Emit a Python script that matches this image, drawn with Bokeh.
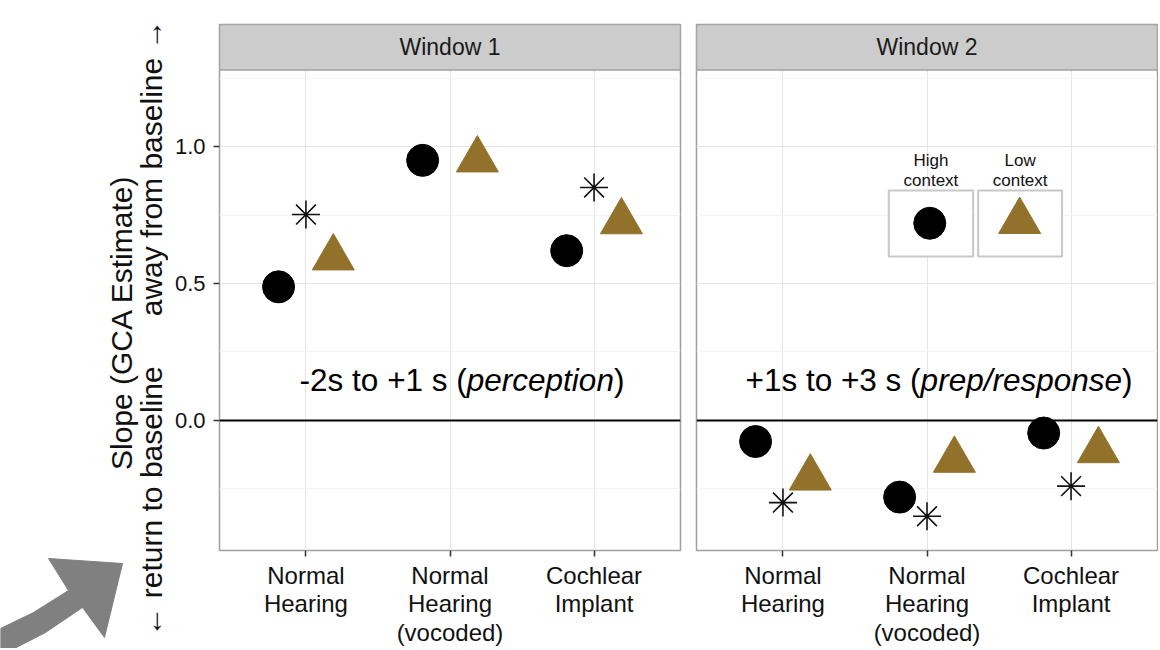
import math
from bokeh.plotting import figure
from bokeh.models import (Range1d, FixedTicker, Span, Label, Grid,
                          ColumnDataSource, PrintfTickFormatter)
from bokeh.transform import dodge
from bokeh.layouts import row
from bokeh.embed import file_html
from bokeh.resources import INLINE

# ---------------- data ----------------
groups = ["Normal\nHearing", "Normal\nHearing\n(vocoded)", "Cochlear\nImplant"]
windows = ["Window 1", "Window 2"]
high_w1 = [0.488, 0.950, 0.620]
low_w1 = [0.594, 0.952, 0.726]
star_w1 = [0.752, float("nan"), 0.851]
high_w2 = [-0.077, -0.280, -0.046]
low_w2 = [-0.210, -0.145, -0.110]
star_w2 = [-0.300, -0.350, -0.240]
y_ticks = [0.0, 0.5, 1.0]
y_minor = [-0.25, 0.25, 0.75, 1.25]
annotations = [("-2s to +1 s (", "perception", ")"),
               ("+1s to +3 s (", "prep/response", ")")]
legend_labels = [("High", "context"), ("Low", "context")]
y_title = "Slope (GCA Estimate)"
y_sub_low = "\u2190 return to baseline"
y_sub_high = "away from baseline \u2192"

# ---------------- layout / style ----------------
FONT = "Liberation Sans"
GOLD = "#92722a"
LEFT_W = 168                      # width of the title/arrow column
FRAME_W = 461
P1_LEFT, P1_RIGHT = 219 - LEFT_W, 2
P2_LEFT, P2_RIGHT = 14, 1
FRAME_TOP = 24
STRIP_PX = 46
PANEL_PX = 486
BOTTOM_PX = 92
HEIGHT = FRAME_TOP + STRIP_PX + PANEL_PX + BOTTOM_PX
Y_LO, Y_HI = -0.475, 1.28
X_LO, X_HI = 0.4, 3.6
SY = PANEL_PX / (Y_HI - Y_LO)          # px per y unit
Y_TOP = Y_HI + STRIP_PX / SY           # top of the strip in data units
DODGE = 0.19

# Arial / Liberation Sans advance widths (per 1000 em)
AW = {" ": 278, "(": 333, ")": 333, "+": 584, "-": 333, "/": 278, "1": 556, "2": 556,
      "3": 556, "a": 556, "c": 500, "e": 556, "i": 222, "n": 556, "o": 556, "p": 556,
      "r": 333, "s": 500, "t": 278}


def text_w(s, px):
    return sum(AW.get(ch, 556) for ch in s) * px / 1000.0


def fx(f):
    return X_LO + f * (X_HI - X_LO)


def fy(f):
    return Y_HI - f * (Y_HI - Y_LO)


y_range = Range1d(Y_LO, Y_TOP)


def make_panel(title, high, low, star, left, right, show_y, annot):
    p = figure(width=left + FRAME_W + right, height=HEIGHT,
               x_range=Range1d(X_LO, X_HI), y_range=y_range,
               y_axis_location="left" if show_y else None,
               toolbar_location=None, output_backend="svg",
               min_border_left=left, min_border_right=right,
               min_border_top=FRAME_TOP, min_border_bottom=BOTTOM_PX)
    p.background_fill_color = "white"
    p.border_fill_color = "white"
    p.outline_line_color = "#a0a0a0"
    p.outline_line_width = 1.5

    xa = p.xaxis[0]
    xa.ticker = FixedTicker(ticks=list(range(1, len(groups) + 1)))
    xa.major_label_overrides = {i + 1: g for i, g in enumerate(groups)}
    xa.major_label_text_font = FONT
    xa.major_label_text_font_size = "24px"
    xa.major_label_text_color = "#111111"
    xa.major_label_text_line_height = 1.06
    xa.major_label_standoff = 5
    xa.major_tick_out = 6
    xa.major_tick_in = 0
    xa.major_tick_line_color = "#333333"
    xa.major_tick_line_width = 1.5
    xa.minor_tick_line_color = None
    xa.axis_line_color = None
    p.xgrid.grid_line_color = "#e5e5e5"
    p.xgrid.grid_line_width = 1

    if show_y:
        ya = p.yaxis[0]
        ya.ticker = FixedTicker(ticks=y_ticks, minor_ticks=y_minor)
        ya.formatter = PrintfTickFormatter(format="%.1f")
        ya.major_label_text_font = FONT
        ya.major_label_text_font_size = "22px"
        ya.major_label_text_color = "#111111"
        ya.major_label_standoff = 8
        ya.major_tick_out = 6
        ya.major_tick_in = 0
        ya.major_tick_line_color = "#333333"
        ya.major_tick_line_width = 1.5
        ya.minor_tick_line_color = None
        ya.axis_line_color = None
        g = p.ygrid[0]
    else:
        g = Grid(dimension=1)
        p.add_layout(g)
    g.ticker = FixedTicker(ticks=y_ticks, minor_ticks=y_minor)
    g.grid_line_color = "#e5e5e5"
    g.grid_line_width = 1
    g.minor_grid_line_color = "#f3f3f3"
    g.minor_grid_line_width = 1

    # facet strip
    p.quad(left=[X_LO], right=[X_HI], bottom=[Y_HI], top=[Y_TOP],
           fill_color="#cccccc", line_color="#a0a0a0", line_width=1.5)
    p.add_layout(Label(x=(X_LO + X_HI) / 2, y=(Y_HI + Y_TOP) / 2, text=title,
                       text_align="center", text_baseline="middle", text_font=FONT,
                       text_font_size="23px", text_color="#1a1a1a"))

    p.add_layout(Span(location=0, dimension="width", line_color="black", line_width=2))

    src = ColumnDataSource(dict(pos=list(range(1, len(groups) + 1)),
                                high=high, low=low, star=star))
    p.scatter(x=dodge("pos", -DODGE), y="high", source=src, marker="circle",
              size=32, fill_color="black", line_color="black")
    p.scatter(x=dodge("pos", DODGE), y="low", source=src, marker="triangle",
              size=42, fill_color=GOLD, line_color=GOLD)
    p.scatter(x="pos", y="star", source=src, marker="asterisk",
              size=28, line_color="#111111", line_width=1.6)

    fs = 31.5
    pre, ital, post = annot
    total = text_w(pre, fs) + text_w(ital, fs) + text_w(post, fs)
    x0 = -total / 2
    common = dict(x=fx(0.526), y=0.148, text_baseline="middle", text_align="left",
                  text_font=FONT, text_font_size=f"{fs}px", text_color="black")
    p.add_layout(Label(text=pre, x_offset=x0, **common))
    p.add_layout(Label(text=ital, x_offset=x0 + text_w(pre, fs),
                       text_font_style="italic", **common))
    p.add_layout(Label(text=post, x_offset=x0 + text_w(pre, fs) + text_w(ital, fs),
                       **common))
    return p


p1 = make_panel(windows[0], high_w1, low_w1, star_w1, P1_LEFT, P1_RIGHT, True, annotations[0])
p2 = make_panel(windows[1], high_w2, low_w2, star_w2, P2_LEFT, P2_RIGHT, False, annotations[1])

# ---------------- legend (drawn inside Window 2) ----------------
box_fx = [(0.417, 0.600), (0.611, 0.793)]
p2.quad(left=[fx(a) for a, b in box_fx], right=[fx(b) for a, b in box_fx],
        top=[fy(0.251)] * 2, bottom=[fy(0.388)] * 2,
        fill_color="white", line_color="#c8c8c8", line_width=2)
p2.scatter(x=[fx(0.506)], y=[fy(0.319)], marker="circle", size=32,
           fill_color="black", line_color="black")
p2.scatter(x=[fx(0.701)], y=[fy(0.315)], marker="triangle", size=42,
           fill_color=GOLD, line_color=GOLD)
for (l1, l2), (a, b) in zip(legend_labels, box_fx):
    for txt, f in ((l1, 0.189), (l2, 0.229)):
        p2.add_layout(Label(x=fx((a + b) / 2), y=fy(f), text=txt, text_align="center",
                            text_baseline="middle", text_font=FONT,
                            text_font_size="17px", text_color="#111111"))

# ---------------- left column: rotated y title and grey pointer arrow ----------------
lf = figure(width=LEFT_W, height=HEIGHT, x_range=Range1d(0, LEFT_W),
            y_range=Range1d(HEIGHT, 0), x_axis_location=None, y_axis_location=None,
            toolbar_location=None, output_backend="svg",
            min_border_left=0, min_border_right=0, min_border_top=0, min_border_bottom=0)
lf.frame_align = False
lf.grid.visible = False
lf.outline_line_color = None
lf.background_fill_color = "white"
lf.border_fill_color = "white"

TFS = "30px"
lf.add_layout(Label(x=121, y=322, text=y_title, angle=math.pi / 2,
                    text_align="center", text_baseline="middle", text_font=FONT,
                    text_font_size=TFS, text_color="#111111"))
lf.add_layout(Label(x=151, y=636, text=y_sub_low, angle=math.pi / 2,
                    text_align="left", text_baseline="middle", text_font=FONT,
                    text_font_size=TFS, text_color="#111111"))
lf.add_layout(Label(x=151, y=19, text=y_sub_high, angle=math.pi / 2,
                    text_align="right", text_baseline="middle", text_font=FONT,
                    text_font_size=TFS, text_color="#111111"))

arrow_x = [0, 33, 68, 48, 122, 104, 82, 45, 10, 0]
arrow_y = [628, 612, 590, 558, 563, 637, 607, 632, 650, 656]
lf.patch(arrow_x, arrow_y, fill_color="#808080", line_color="#808080", line_width=1)

layout = row(lf, p1, p2)
open("out.html", "w").write(file_html(layout, INLINE))
